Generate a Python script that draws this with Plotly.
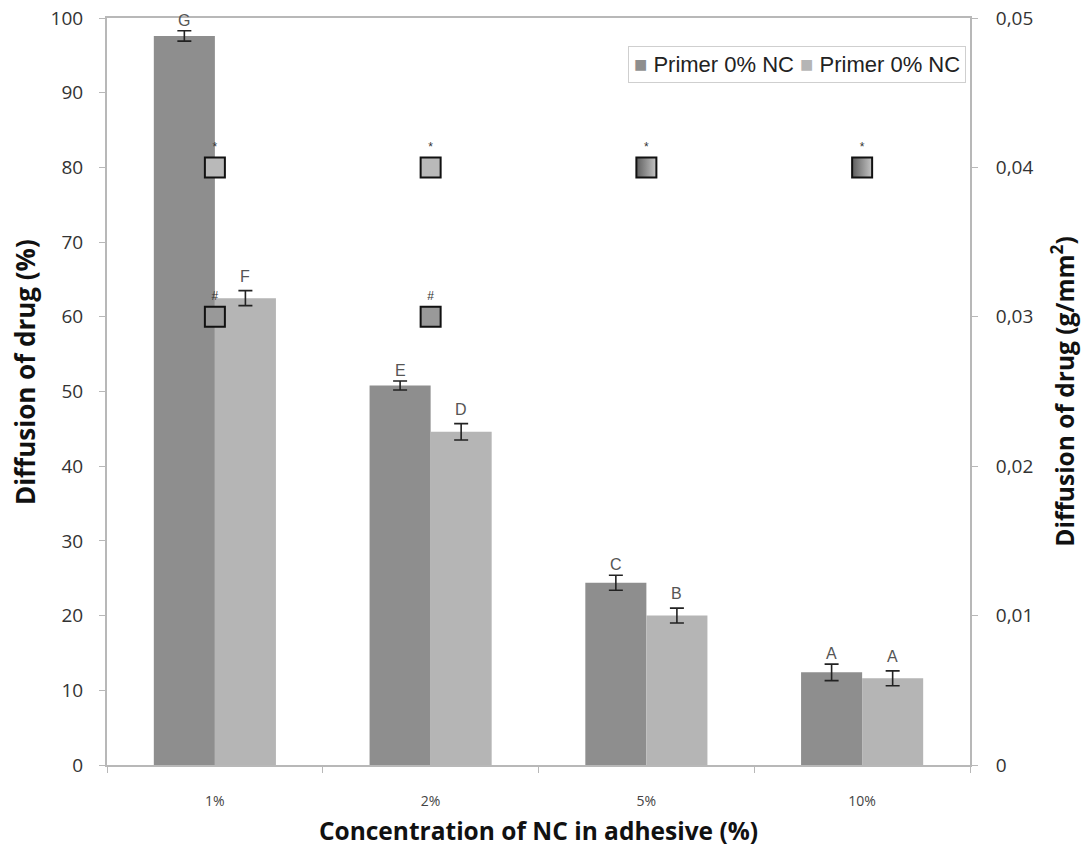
import plotly.graph_objects as go

# Concentration of nanocapsules (NC) in the adhesive
categories = ["1%", "2%", "5%", "10%"]

# Diffusion of drug (%) for the two primer series, with standard deviations
series_a_values = [97.6, 50.8, 24.4, 12.4]
series_a_err = [0.7, 0.6, 1.0, 1.1]
series_a_letters = ["G", "E", "C", "A"]

series_b_values = [62.5, 44.6, 20.0, 11.6]
series_b_err = [1.0, 1.1, 1.0, 1.0]
series_b_letters = ["F", "D", "B", "A"]

series_names = ["Primer 0% NC", "Primer 0% NC"]

# Diffusion of drug (g/mm²) on the secondary axis
mass_row_star = [0.04, 0.04, 0.04, 0.04]
mass_row_hash = [0.03, 0.03]
hash_categories = ["1%", "2%"]

DARK = "#8e8e8e"
LIGHT = "#b5b5b5"
FONT = "Open Sans"

fig = go.Figure()

fig.add_trace(go.Bar(
    x=categories, y=series_a_values, name=series_names[0],
    marker=dict(color=DARK, line=dict(width=0)),
    error_y=dict(type="data", array=series_a_err, color="#222222", thickness=1.6, width=7),
    showlegend=False,
))
fig.add_trace(go.Bar(
    x=categories, y=series_b_values, name=series_names[1],
    marker=dict(color=LIGHT, line=dict(width=0)),
    error_y=dict(type="data", array=series_b_err, color="#222222", thickness=1.6, width=7),
    showlegend=False,
))

mark_font = dict(family="Liberation Sans", size=12, color="#333333")

# Upper row of square markers: plain light squares, then two-tone squares
fig.add_trace(go.Scatter(
    x=categories[:2], y=mass_row_star[:2], yaxis="y2", mode="markers+text",
    text=["*", "*"], textposition="top center", textfont=mark_font,
    marker=dict(symbol="square", size=20, color="#b9b9b9",
                line=dict(color="#111111", width=2)),
    showlegend=False, cliponaxis=False,
))
fig.add_trace(go.Scatter(
    x=categories[2:], y=mass_row_star[2:], yaxis="y2", mode="markers+text",
    text=["*", "*"], textposition="top center", textfont=mark_font,
    marker=dict(symbol="square", size=20, color="#5e5e5e",
                gradient=dict(type="horizontal", color="#c4c4c4"),
                line=dict(color="#111111", width=2)),
    showlegend=False, cliponaxis=False,
))
# Lower row of markers
fig.add_trace(go.Scatter(
    x=hash_categories, y=mass_row_hash, yaxis="y2", mode="markers+text",
    text=["#", "#"], textposition="top center", textfont=mark_font,
    marker=dict(symbol="square", size=20, color="#999999",
                line=dict(color="#111111", width=2)),
    showlegend=False, cliponaxis=False,
))

# Letters of statistical grouping above each error bar
BAR_HALF = 30.5
letter_font = dict(family="Liberation Sans", size=16, color="#555555")
for cat, v, e, t in zip(categories, series_a_values, series_a_err, series_a_letters):
    fig.add_annotation(x=cat, y=v + e, text=t, xshift=-BAR_HALF, yshift=0,
                       yanchor="bottom", showarrow=False, font=letter_font)
for cat, v, e, t in zip(categories, series_b_values, series_b_err, series_b_letters):
    fig.add_annotation(x=cat, y=v + e, text=t, xshift=BAR_HALF, yshift=4,
                       yanchor="bottom", showarrow=False, font=letter_font)

# Legend box
legend_text = (
    f'<span style="color:{DARK}">■</span> {series_names[0]} '
    f'<span style="color:{LIGHT}">■</span> {series_names[1]}'
)
fig.add_annotation(
    xref="paper", yref="paper", x=0.995, y=0.962, xanchor="right", yanchor="top",
    text=legend_text, showarrow=False, align="left",
    font=dict(family="Liberation Sans", size=22, color="#222222"),
    bgcolor="white", bordercolor="#cfcfcf", borderwidth=1, borderpad=5,
)

# Left axis title
fig.add_annotation(
    xref="paper", yref="paper", x=-0.095, y=0.526, xanchor="center", yanchor="middle",
    text="Diffusion of drug (%)", textangle=-90, showarrow=False,
    font=dict(family=FONT, size=26, color="#111111", weight="bold"),
)

axis_line = "#b8b8b8"
title_font = dict(family=FONT, size=24.5, color="#111111", weight="bold")
fig.update_layout(
    width=1085, height=854,
    margin=dict(l=107, r=115, t=18, b=89, autoexpand=False),
    paper_bgcolor="white", plot_bgcolor="white",
    barmode="group", bargap=0.434, bargroupgap=0,
    separators=",.",
    font=dict(family=FONT, color="#333333"),
    showlegend=False,
    xaxis=dict(
        showline=True, linecolor=axis_line, linewidth=2, mirror=True,
        ticks="outside", tickson="boundaries", ticklen=6, tickcolor=axis_line,
        tickfont=dict(family=FONT, size=14, color="#444444"),
        ticklabelstandoff=22, automargin=False,
        title=dict(text="Concentration of NC in adhesive (%)", font=title_font,
                   standoff=14),
        showgrid=False,
    ),
    yaxis=dict(
        range=[0, 100], dtick=10, showline=True, linecolor=axis_line, linewidth=2,
        ticks="outside", ticklen=6, tickcolor=axis_line,
        tickfont=dict(family=FONT, size=19, color="#333333"),
        ticklabelstandoff=12, automargin=False,
        showgrid=False, zeroline=False,
    ),
    yaxis2=dict(
        range=[0, 0.05], dtick=0.01, overlaying="y", side="right",
        showline=True, linecolor=axis_line, linewidth=2,
        ticks="outside", ticklen=6, tickcolor=axis_line,
        tickfont=dict(family=FONT, size=19, color="#333333"),
        ticklabelstandoff=14, tickformat=".2~f", automargin=False,
        showgrid=False, zeroline=False,
        title=dict(text="Diffusion of drug (g/mm<sup>2</sup>)", font=title_font,
                   standoff=24),
    ),
)

fig.write_html("out.html")
